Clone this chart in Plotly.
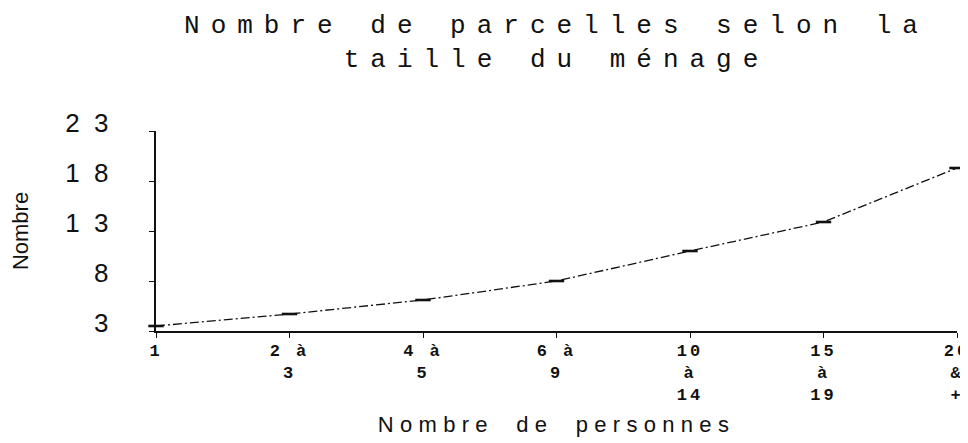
import plotly.graph_objects as go

# Data
categories = ["1", "2 à<br>3", "4 à<br>5", "6 à<br>9", "10<br>à<br>14", "15<br>à<br>19", "20<br>&<br>+"]
parcelles = [3.5, 4.7, 6.1, 8.0, 11.0, 13.9, 19.3]
y_ticks = [3, 8, 13, 18, 23]
y_ticktext = ["3", "8", "13", "18", "23"]

x_idx = list(range(len(categories)))

fig = go.Figure()
fig.add_trace(go.Scatter(
    x=x_idx, y=parcelles, mode="lines+markers",
    line=dict(color="#111", width=1.3, dash="9px,3px,2px,3px"),
    marker=dict(symbol="line-ew", size=11, line=dict(color="#111", width=2.6)),
    cliponaxis=False, showlegend=False, hoverinfo="x+y",
))

fig.update_layout(
    width=968, height=443,
    paper_bgcolor="white", plot_bgcolor="white",
    margin=dict(l=148, r=9, t=123, b=120),
    title=dict(
        text="Nombre de parcelles selon la<br>taille du ménage",
        font=dict(family="Liberation Mono", size=26, color="#111"),
        x=0.5, xanchor="center", xref="paper",
        y=1 - 25 / 443, yanchor="top", yref="container",
    ),
    xaxis=dict(
        range=[0, 6], tickmode="array", tickvals=x_idx, ticktext=categories,
        showgrid=False, zeroline=False, showline=True, linecolor="#111", linewidth=1.5,
        ticks="outside", ticklen=5, tickwidth=1.3, tickcolor="#111",
        tickfont=dict(family="Liberation Mono", size=17, color="#111", weight="bold"),
        ticklabelstandoff=-2, ticklabeloverflow="allow",
        title=dict(text="Nombre de personnes", standoff=12,
                   font=dict(family="Liberation Sans", size=22, color="#111")),
        fixedrange=True,
    ),
    yaxis=dict(
        range=[3, 23], tickmode="array", tickvals=y_ticks, ticktext=y_ticktext,
        showgrid=False, zeroline=False, showline=True, linecolor="#111", linewidth=1.5,
        ticks="outside", ticklen=5, tickwidth=1.3, tickcolor="#111",
        tickfont=dict(family="Liberation Sans", size=26, color="#111"),
        ticklabelstandoff=21, ticklabelshift=-8,
        title=dict(text="Nombre", standoff=60,
                   font=dict(family="Liberation Sans", size=22, color="#111")),
        fixedrange=True,
    ),
    xaxis2=dict(
        overlaying="x", matches="x", range=[0, 6], tickmode="array", tickvals=x_idx,
        showticklabels=False, showgrid=False, zeroline=False, showline=False,
        ticks="inside", ticklen=5, tickwidth=1.3, tickcolor="#111", side="bottom",
    ),
    yaxis2=dict(
        overlaying="y", matches="y", range=[3, 23], tickmode="array", tickvals=y_ticks,
        showticklabels=False, showgrid=False, zeroline=False, showline=False,
        ticks="inside", ticklen=5, tickwidth=1.3, tickcolor="#111", side="left",
    ),
)

post = """
var s = document.createElement('style');
s.textContent = '.gtitle{letter-spacing:11px}'
  + '.ytick text{letter-spacing:14.5px}'
  + '.xtick text{letter-spacing:3px}'
  + '.xtitle{letter-spacing:6.3px;word-spacing:10px}';
document.head.appendChild(s);
"""

fig.write_html("out.html", post_script=post)
